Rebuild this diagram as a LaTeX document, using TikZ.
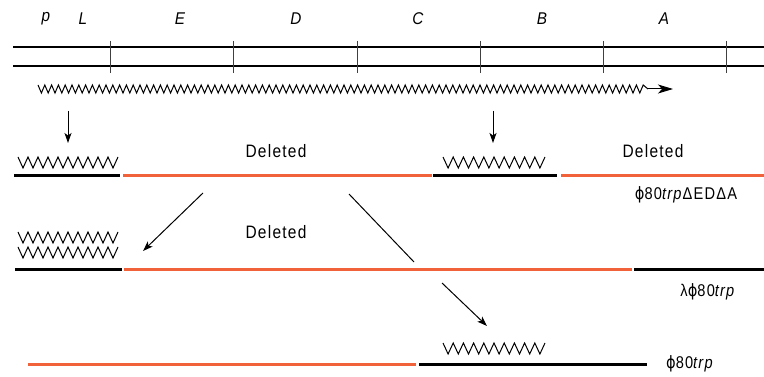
\documentclass[tikz,border=0pt]{standalone}
\usepackage{fontspec}
\setmainfont{Liberation Sans}
\newfontfamily\lsf[LetterSpace=7,FakeStretch=0.86]{Liberation Sans}
\newfontfamily\gsf[FakeStretch=0.9]{Liberation Sans}
\newfontfamily\phif[FakeStretch=0.86]{DejaVu Sans}
\newcommand{\myphi}{{\phif ϕ}}
\usetikzlibrary{arrows.meta}
\definecolor{delcol}{RGB}{242,98,58}
\tikzset{
  gene/.style={font=\gsf\fontsize{17}{17}\selectfont\itshape, inner sep=0pt},
  deltxt/.style={font=\lsf\fontsize{18}{18}\selectfont, inner sep=0pt},
  phage/.style={font=\lsf\fontsize{17}{17}\selectfont, inner sep=0pt},
  dna/.style={line width=2.6pt},
  seg/.style={line width=3pt},
  keep/.style={seg, black},
  gone/.style={seg, delcol},
  tick/.style={line width=1pt, black!75},
  wave/.style={line width=1pt, line join=miter},
  arr/.style={line width=1pt, -{Stealth[length=10pt,width=7pt,inset=2.5pt]}},
}
\begin{document}
\begin{tikzpicture}[x=1pt,y=-1pt]
\useasboundingbox (0,0) rectangle (764,377);
% gene labels
\node[gene] (p) at (46,19) {p};
\node[gene] (L) at (83,19) {L};
\node[gene] (E) at (180,19) {E};
\node[gene] (D) at (296,19) {D};
\node[gene] (C) at (418,19) {C};
\node[gene] (B) at (542,19) {B};
\node[gene] (A) at (664,19) {A};
% double DNA line
\draw[dna] (13,47) -- (764,47);
\draw[dna] (13,66) -- (764,66);
\foreach \x in {110,233,357,480,603,726} \draw[tick] (\x,41) -- (\x,73);
% long transcript
\draw[wave] (38,85) \foreach \i in {1,...,89} { -- ++(3.4,8) -- ++(3.4,-8) } -- (648,89) coordinate (mend);
\coordinate (mtip) at (673,89);
\draw[line width=1pt, -{Stealth[length=15pt,width=9pt,inset=4pt]}] (mend) -- (mtip);
% row 1
\coordinate (a1s) at (68,111); \coordinate (a1e) at (68,143);
\coordinate (a2s) at (493,111); \coordinate (a2e) at (493,143);
\draw[arr] (a1s) -- (a1e);
\draw[arr] (a2s) -- (a2e);
\draw[wave] (18,157) \foreach \i in {1,...,10} { -- ++(5,11) -- ++(5,-11) };
\draw[wave] (443,157) \foreach \i in {1,...,10} { -- ++(5.1,11) -- ++(5.1,-11) };
\draw[keep] (14,176) -- (120,176);
\draw[gone] (123,176) -- (432,176);
\draw[keep] (433,176) -- (557,176);
\draw[gone] (561,176) -- (764,176);
\node[deltxt] (del1) at (276,151) {Deleted};
\node[deltxt] (del2) at (653,151) {Deleted};
\node[phage] (ph1) at (686,195) {\myphi80\textit{trp}ΔEDΔA};
% row 2
\coordinate (b1s) at (203,193); \coordinate (b1e) at (143,251);
\coordinate (b2s) at (349,194); \coordinate (b2e) at (414,262);
\draw[arr] (b1s) -- (b1e);
\draw[line width=1pt] (b2s) -- (b2e);
\draw[wave] (18,232) \foreach \i in {1,...,10} { -- ++(5,11) -- ++(5,-11) };
\draw[wave] (18,247) \foreach \i in {1,...,10} { -- ++(5,11) -- ++(5,-11) };
\draw[keep] (15,270) -- (122,270);
\draw[gone] (124,270) -- (632,270);
\draw[keep] (634,270) -- (764,270);
\node[deltxt] (del3) at (276,232) {Deleted};
\node[phage] (ph2) at (708,292) {λ\myphi80\textit{trp}};
% row 3
\coordinate (c1s) at (442,283); \coordinate (c1e) at (487,326);
\draw[arr] (c1s) -- (c1e);
\draw[wave] (443,343) \foreach \i in {1,...,10} { -- ++(5.1,11) -- ++(5.1,-11) };
\draw[gone] (28,364) -- (416,364);
\draw[keep] (419,364) -- (647,364);
\node[phage] (ph3) at (690,364) {\myphi80\textit{trp}};
\end{tikzpicture}
\end{document}
